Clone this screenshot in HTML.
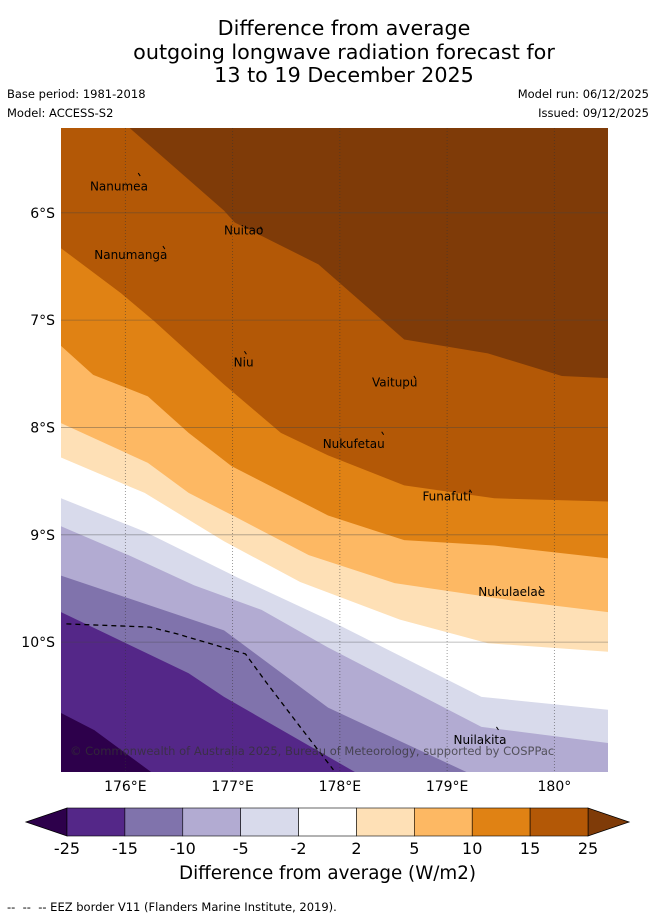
<!DOCTYPE html>
<html><head><meta charset="utf-8">
<style>
body{margin:0;background:#fff;font-family:"DejaVu Sans","Liberation Sans",sans-serif;}
#wrap{position:relative;width:655px;height:919px;overflow:hidden;}
.t{position:absolute;white-space:nowrap;color:#000;}
</style></head>
<body>
<div id="wrap">
<div class="t" style="left:0;width:688px;top:17px;text-align:center;font-size:20.7px;line-height:23.5px;">Difference from average<br>outgoing longwave radiation forecast for<br>13 to 19 December 2025</div>
<div class="t" style="left:7px;top:87px;font-size:11.5px;">Base period: 1981-2018</div>
<div class="t" style="left:7px;top:106px;font-size:11.5px;">Model: ACCESS-S2</div>
<div class="t" style="right:6px;top:87px;font-size:11.5px;">Model run: 06/12/2025</div>
<div class="t" style="right:6px;top:106px;font-size:11.5px;">Issued: 09/12/2025</div>
<svg id="svg" width="655" height="919" style="position:absolute;left:0;top:0"></svg>
<div class="t" style="left:0;width:655px;top:863px;text-align:center;font-size:18.3px;">Difference from average (W/m2)</div>
<div class="t" style="left:7px;top:900px;font-size:11.5px;">-- &nbsp;-- &nbsp;-- EEZ border V11 (Flanders Marine Institute, 2019).</div>
</div>
<script>
const lonTicks=[176,177,178,179,180];
const latTicks=[-6,-7,-8,-9,-10];
const bandColors=["#7f3b08","#b35806","#e08214","#fdb863","#fee0b6","#ffffff","#d8daeb","#b2abd2","#8073ac","#542788","#2d004b"];
const cbLevels=["-25","-15","-10","-5","-2","2","5","10","15","25"];
const b25=[[176.04,-5.21],[176.92,-5.98],[177.02,-6.09],[177.80,-6.48],[178.60,-7.18],[179.38,-7.31],[180.07,-7.52],[180.50,-7.54]];
const b15=[[175.40,-6.33],[175.96,-6.75],[176.27,-7.01],[176.92,-7.60],[177.45,-8.05],[177.89,-8.26],[178.60,-8.54],[179.44,-8.66],[180.50,-8.69]];
const b10=[[175.40,-7.24],[175.70,-7.51],[176.21,-7.71],[176.59,-8.05],[176.99,-8.36],[177.89,-8.82],[178.60,-9.05],[179.44,-9.10],[180.50,-9.22]];
const b5=[[175.40,-7.96],[176.21,-8.33],[176.59,-8.61],[177.02,-8.83],[177.71,-9.19],[178.51,-9.45],[179.59,-9.61],[180.50,-9.72]];
const b2=[[175.40,-8.28],[176.18,-8.61],[176.92,-9.06],[177.63,-9.44],[178.56,-9.79],[179.38,-10.01],[180.50,-10.09]];
const bm2=[[175.40,-8.66],[176.18,-8.97],[177.05,-9.40],[177.89,-9.79],[179.32,-10.51],[180.50,-10.63]];
const bm5=[[175.40,-8.92],[176.03,-9.19],[176.64,-9.47],[177.27,-9.70],[177.89,-10.05],[179.32,-10.79],[180.50,-10.94]];
const bm10=[[175.40,-9.38],[176.92,-9.89],[177.89,-10.61],[179.18,-11.21]];
const bm15=[[175.40,-9.72],[176.59,-10.29],[176.92,-10.51],[178.14,-11.21]];
const bm25=[[175.40,-10.66],[175.71,-10.82],[176.24,-11.21]];
const eez=[[175.45,-9.83],[176.23,-9.86],[176.47,-9.92],[177.12,-10.11],[177.31,-10.37],[177.63,-10.79],[177.94,-11.19]];
const places=["Nanumea","Nuitao","Nanumanga","Niu","Vaitupu","Nukufetau","Funafuti","Nukulaelae","Nuilakita"];
const placeLon=[175.67,176.92,175.71,177.01,178.30,177.84,178.77,179.29,179.06];
const placeLat=[-5.79,-6.20,-6.43,-7.43,-7.62,-8.19,-8.68,-9.57,-10.95];
const markLon=[176.12,177.26,176.35,177.11,178.69,178.39,179.21,179.86,179.46];
const markLat=[-5.63,-6.13,-6.31,-7.29,-7.52,-8.04,-8.58,-9.48,-10.79];

const L0=175.40,L1=180.50,T=-5.21,B=-11.21,X0=61,X1=608,Y0=128,Y1=772;
const sx=l=>X0+(l-L0)/(L1-L0)*(X1-X0);
const sy=a=>Y0+(T-a)/(T-B)*(Y1-Y0);
const svg=document.getElementById('svg');
const NS="http://www.w3.org/2000/svg";
function mk(tag,attrs){const e=document.createElementNS(NS,tag);for(const k in attrs)e.setAttribute(k,attrs[k]);svg.appendChild(e);return e;}
const bg=mk('rect',{x:X0,y:Y0,width:X1-X0,height:Y1-Y0,fill:bandColors[0]});


const bounds=[b25,b15,b10,b5,b2,bm2,bm5,bm10,bm15,bm25];
const bandNames=["band-15-25","band-10-15","band-5-10","band-2-5","band-neutral","band-m5-m2","band-m10-m5","band-m15-m10","band-m25-m15","band-below-m25"];
bounds.forEach((bd,i)=>{
  const pts=bd.map(p=>[sx(p[0]),sy(p[1])]);
  const last=bd[bd.length-1];
  if(last[1]>B+0.001) pts.push([X1,Y1]);
  pts.push([X0,Y1]);
  if(bd[0][0]>L0+0.001) pts.push([X0,Y0]);
  const p=mk('polygon',{points:pts.map(q=>q.join(',')).join(' '),fill:bandColors[i+1]});
  
  
});
lonTicks.forEach(l=>{
  const g=mk('line',{x1:sx(l),x2:sx(l),y1:Y0,y2:Y1,stroke:'#333','stroke-width':0.8,'stroke-dasharray':'1,2','stroke-opacity':0.6});
  
  
  const t=mk('text',{x:sx(l),y:791,'font-size':14,'text-anchor':'middle','font-family':'DejaVu Sans,Liberation Sans,sans-serif'});
  t.textContent=l+'°'+(l>=180?'':'E');
  
  
});
latTicks.forEach(a=>{
  const g=mk('line',{x1:X0,x2:X1,y1:sy(a),y2:sy(a),stroke:'#444','stroke-width':0.8,'stroke-opacity':0.45});
  
  
  const t=mk('text',{x:55,y:sy(a)+5,'font-size':14,'text-anchor':'end','font-family':'DejaVu Sans,Liberation Sans,sans-serif'});
  t.textContent=(-a)+'°S';
  
  
});
const ez=mk('polyline',{points:eez.map(p=>sx(p[0])+','+sy(p[1])).join(' '),fill:'none',stroke:'#000','stroke-width':1.3,'stroke-dasharray':'5,4'});


places.forEach((n,i)=>{
  const m=mk('line',{x1:sx(markLon[i]),y1:sy(markLat[i]),x2:sx(markLon[i])+2,y2:sy(markLat[i])+3,stroke:'#000','stroke-width':1});
  
  
  const t=mk('text',{x:sx(placeLon[i]),y:sy(placeLat[i]),'font-size':12,'font-family':'DejaVu Sans,Liberation Sans,sans-serif'});
  t.textContent=n;
  
  
});
const cp=mk('text',{x:70,y:755,'font-size':11.5,fill:'#333','fill-opacity':0.75,'font-family':'DejaVu Sans,Liberation Sans,sans-serif'});
cp.textContent='© Commonwealth of Australia 2025, Bureau of Meteorology, supported by COSPPac';


// colorbar
const cx0=67,cx1=588,cy0=808,cy1=836,n=cbLevels.length-1,w=(cx1-cx0)/n;
const lt=mk('polygon',{points:`${cx0},${cy0} ${cx0},${cy1} 26,${(cy0+cy1)/2}`,fill:bandColors[10],stroke:'#000','stroke-width':0.8});


const rt=mk('polygon',{points:`${cx1},${cy0} ${cx1},${cy1} 629,${(cy0+cy1)/2}`,fill:bandColors[0],stroke:'#000','stroke-width':0.8});


for(let i=0;i<n;i++){
  const r=mk('rect',{x:cx0+i*w,y:cy0,width:w,height:cy1-cy0,fill:bandColors[9-i],stroke:'#000','stroke-width':0.6});
  
  
}
cbLevels.forEach((lv,i)=>{
  const t=mk('text',{x:cx0+i*w,y:854,'font-size':16,'text-anchor':'middle','font-family':'DejaVu Sans,Liberation Sans,sans-serif'});
  t.textContent=lv;
  
  
});
</script>
</body></html>
